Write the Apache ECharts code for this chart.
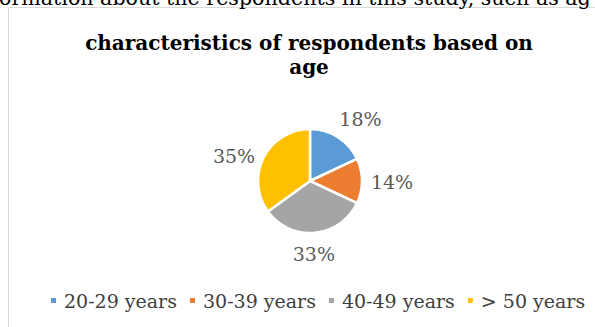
<!DOCTYPE html>
<html><head><meta charset="utf-8">
<script src="https://cdn.jsdelivr.net/npm/echarts@6/dist/echarts.min.js"></script>
<style>html,body{margin:0;padding:0;background:#fff;overflow:hidden}#c{width:595px;height:327px}</style>
</head><body><div id="c"></div>
<script>
const contextText = 'ormation about the respondents in this study, such as ag';
const titleLines = ['characteristics of respondents based on', 'age'];
const categories = ['20-29 years', '30-39 years', '40-49 years', '> 50 years'];
const shares = [18, 14, 33, 35];
const colors = ['#5b9bd5', '#ed7d31', '#a5a5a5', '#ffc000'];
// small label nudges (style only) to mimic Excel's best-fit label placement
const labelNudge = [[6, 8], [-1, 1], [-4, -10], [-2, 13]];

const serif = '"DejaVu Serif", "Liberation Serif", serif';
const pieData = categories.map((n, i) => ({ name: n, value: shares[i] }));
const labelData = categories.map((n, i) => ({ name: n, value: shares[i], label: { offset: labelNudge[i] } }));

const chart = echarts.init(document.getElementById('c'), null, { renderer: 'svg' });
chart.setOption({
  animation: false,
  color: colors,
  graphic: [
    { type: 'rect', shape: { x: 8.5, y: 7.5, width: 700, height: 400 }, style: { fill: '#fff', stroke: '#d9d9d9', lineWidth: 1 }, z: -10 },
    { type: 'text', x: -1, y: 8, z: 5, style: { text: contextText, font: '20.6px ' + serif, fill: '#000', textVerticalAlign: 'bottom' } },
    { type: 'text', x: 309, y: 31, style: { text: titleLines.join('\n'), font: 'bold 20px ' + serif, fill: '#000', textAlign: 'center', lineHeight: 24 } }
  ],
  legend: {
    data: categories,
    left: 44, top: 286,
    icon: 'rect', itemWidth: 7, itemHeight: 7, itemGap: 11,
    textStyle: { fontFamily: serif, fontSize: 19, color: '#404040', padding: [0, 0, 0, 2] }
  },
  series: [
    {
      type: 'pie', center: [310, 181], radius: 52, startAngle: 90, clockwise: true,
      data: pieData,
      itemStyle: { borderColor: '#fff', borderWidth: 2.5 },
      label: { show: false }, labelLine: { show: false }, silent: true
    },
    {
      type: 'pie', center: [310, 181], radius: [0, 160], startAngle: 90, clockwise: true,
      data: labelData, silent: true, legendHoverLink: false,
      itemStyle: { color: 'rgba(0,0,0,0)' },
      label: { show: true, position: 'inside', formatter: '{c}%', fontFamily: serif, fontSize: 19, color: '#595959' },
      labelLine: { show: false }
    }
  ]
});
</script>
</body></html>
